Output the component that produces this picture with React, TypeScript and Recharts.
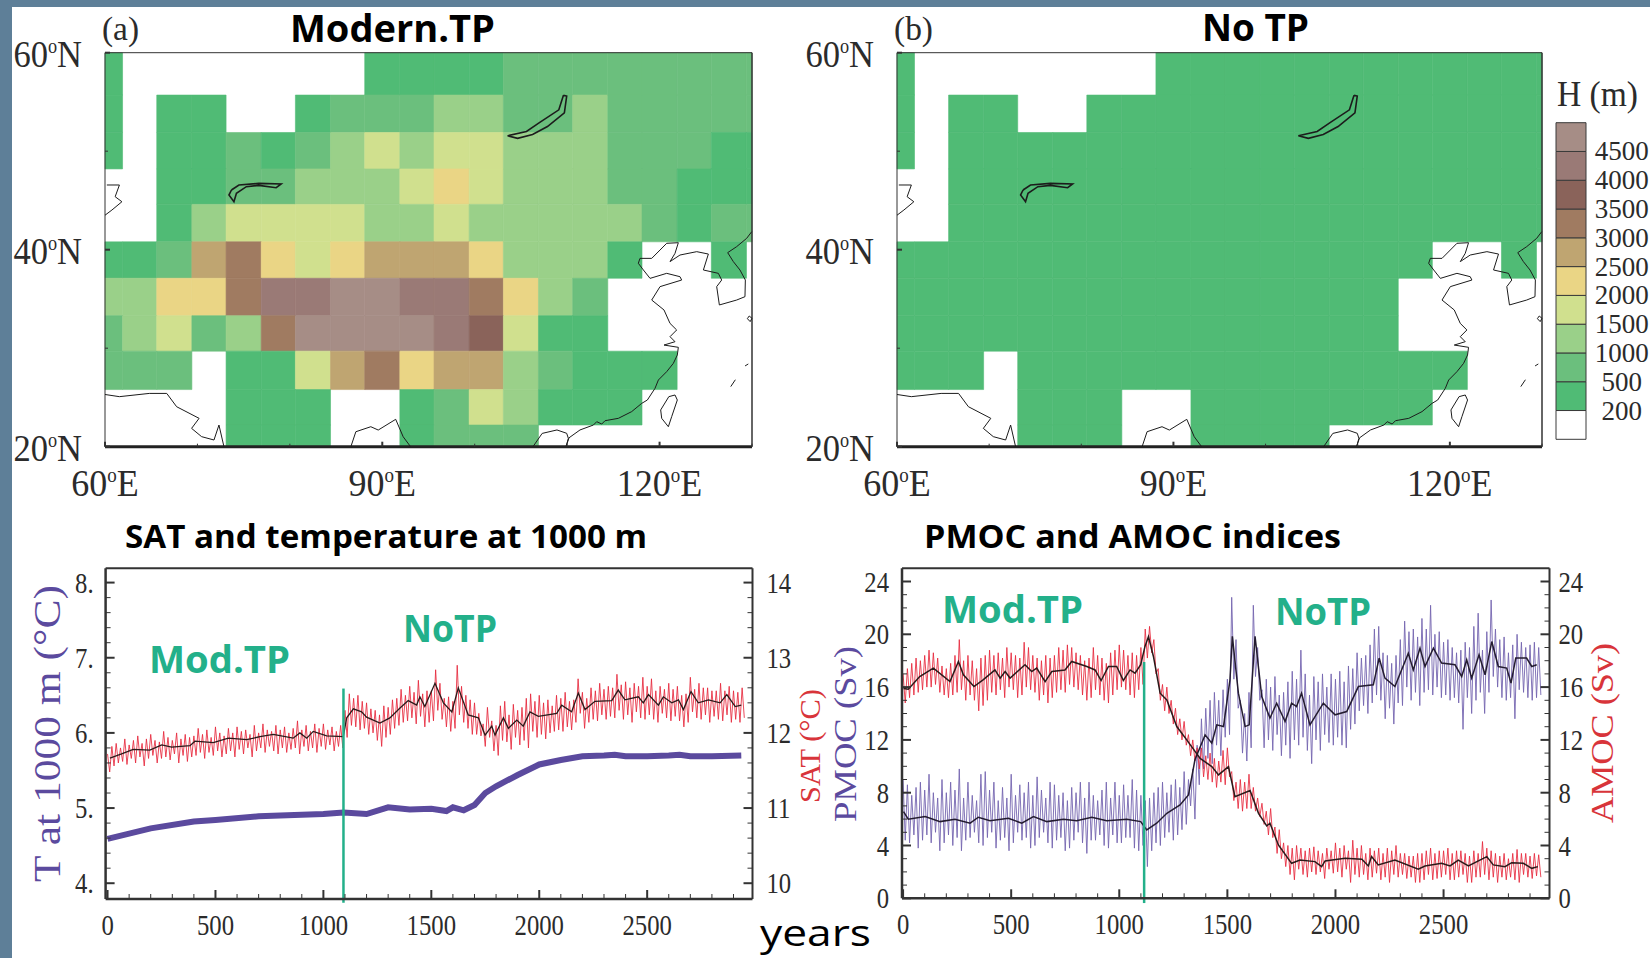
import { BarChart, Bar, ComposedChart, Line, ReferenceArea, ReferenceLine, Scatter, ScatterChart, XAxis, YAxis } from 'recharts';

// Height bands of the colour bar, bottom to top
const bandLabels = ['200', '500', '1000', '1500', '2000', '2500', '3000', '3500', '4000', '4500'];
const bandColors = ['#ffffff', '#50BB75', '#6BBF7D', '#9AD089', '#D0E08E', '#EAD585', '#BFA571', '#A07B61', '#8A635A', '#9A7A76', '#A68D86'];

// Model grid cell edges
const lonEdges = [60, 61.9, 65.6, 69.4, 73.1, 76.9, 80.6, 84.4, 88.1, 91.9, 95.6, 99.4, 103.1, 106.9, 110.6, 114.4, 118.1, 121.9, 125.6, 129.4, 130];
const latEdges = [60, 55.7, 51.9, 48.2, 44.6, 40.8, 37.1, 33.3, 29.7, 25.8, 22.2, 20];

// Band index per cell, north to south, west to east (0 is below 200 m)
const modernBands = [
  [1, 0, 0, 0, 0, 0, 0, 0, 1, 1, 1, 1, 2, 2, 2, 2, 2, 2, 2, 2],
  [1, 0, 1, 1, 0, 0, 1, 2, 2, 2, 3, 3, 2, 2, 3, 2, 2, 2, 2, 2],
  [1, 0, 1, 1, 2, 1, 2, 3, 4, 3, 4, 4, 3, 3, 3, 2, 2, 2, 1, 1],
  [0, 0, 1, 1, 2, 2, 3, 3, 3, 4, 5, 4, 3, 3, 3, 2, 2, 1, 1, 1],
  [0, 0, 1, 3, 4, 4, 4, 4, 3, 3, 4, 3, 3, 3, 3, 3, 2, 1, 2, 2],
  [1, 1, 2, 6, 7, 5, 4, 5, 6, 6, 6, 5, 3, 3, 3, 1, 0, 0, 1, 0],
  [3, 3, 5, 5, 7, 9, 9, 10, 10, 9, 9, 7, 5, 3, 2, 0, 0, 0, 0, 0],
  [2, 3, 4, 2, 3, 7, 10, 10, 10, 10, 9, 8, 4, 1, 1, 0, 0, 0, 0, 0],
  [2, 2, 2, 0, 1, 1, 4, 6, 7, 5, 6, 6, 3, 2, 1, 1, 1, 0, 0, 0],
  [0, 0, 0, 0, 1, 1, 1, 0, 0, 1, 2, 4, 3, 1, 1, 1, 0, 0, 0, 0],
  [0, 0, 0, 0, 1, 1, 1, 0, 0, 1, 2, 2, 2, 0, 0, 0, 0, 0, 0, 0],
];
const noTpBands = [
  [1, 0, 0, 0, 0, 0, 0, 0, 1, 1, 1, 1, 1, 1, 1, 1, 1, 1, 1, 1],
  [1, 0, 1, 1, 0, 0, 1, 1, 1, 1, 1, 1, 1, 1, 1, 1, 1, 1, 1, 1],
  [1, 0, 1, 1, 1, 1, 1, 1, 1, 1, 1, 1, 1, 1, 1, 1, 1, 1, 1, 1],
  [0, 0, 1, 1, 1, 1, 1, 1, 1, 1, 1, 1, 1, 1, 1, 1, 1, 1, 1, 1],
  [0, 0, 1, 1, 1, 1, 1, 1, 1, 1, 1, 1, 1, 1, 1, 1, 1, 1, 1, 1],
  [1, 1, 1, 1, 1, 1, 1, 1, 1, 1, 1, 1, 1, 1, 1, 1, 0, 0, 1, 0],
  [1, 1, 1, 1, 1, 1, 1, 1, 1, 1, 1, 1, 1, 1, 1, 0, 0, 0, 0, 0],
  [1, 1, 1, 1, 1, 1, 1, 1, 1, 1, 1, 1, 1, 1, 1, 0, 0, 0, 0, 0],
  [1, 1, 1, 0, 1, 1, 1, 1, 1, 1, 1, 1, 1, 1, 1, 1, 1, 0, 0, 0],
  [0, 0, 0, 0, 1, 1, 1, 0, 0, 1, 1, 1, 1, 1, 1, 1, 0, 0, 0, 0],
  [0, 0, 0, 0, 1, 1, 1, 0, 0, 1, 1, 1, 1, 0, 0, 0, 0, 0, 0, 0],
];

// Coastlines and lakes as [lon, lat]
const eastCoast = [[106.3, 20], [107.3, 21.35], [108.9, 21.7], [109.95, 21.36], [110.13, 20.85], [109.9, 20.07], [110.2, 20.9], [111.39, 21.7], [112.84, 22.2], [113.2, 22.54], [113.74, 22.3], [114.1, 22.64], [115.54, 22.88], [116.98, 23.56], [118.07, 24.4], [118.68, 24.74], [119.51, 25.93], [119.87, 26.77], [120.77, 27.62], [121.49, 28.46], [121.92, 29.31], [122.03, 30.09], [120.48, 30.32], [121.67, 30.66], [121.13, 31.17], [121.85, 31.85], [121.13, 32.52], [120.48, 33.88], [119.15, 34.89], [120.05, 36.25], [122.39, 36.92], [122.21, 37.26], [120.77, 37.6], [118.97, 37.09], [118.25, 37.94], [117.7, 38.62], [117.88, 39.12], [119.15, 39.12], [120.77, 40.65], [122.03, 40.71], [121.67, 39.63], [121.13, 38.79], [122.21, 39.46], [124.02, 39.8], [125.28, 39.56], [124.74, 37.94], [126.36, 37.6], [126.72, 36.92], [126.18, 36.25], [126.47, 34.39], [128.34, 34.89], [129.24, 35.23], [129.28, 36.92], [128.7, 37.94], [127.98, 38.79], [127.37, 39.7], [128.34, 40.31], [129.42, 41.15], [129.97, 41.83]];
const taiwan = [[121, 25.08], [121.67, 25.25], [121.92, 24.74], [121.31, 23.05], [120.95, 22.03], [120.23, 22.88], [120.12, 23.73], [121, 25.08]];
const kyushu = [[129.7, 33.27], [130, 33.03], [129.8, 32.7], [129.5, 33], [129.7, 33.27]];
const okinawa = [[127.7, 26.1], [128.2, 26.8]];
const amami = [[129.25, 28.2], [129.6, 28.4]];
const arabianCoast = [[60, 25.3], [61.56, 25.08], [64.79, 25.41], [66.68, 25.41], [67.75, 24.06], [70.18, 22.88], [69.37, 21.86], [70.45, 21.02], [71.79, 20.68], [72.33, 22.2], [72.87, 20]];
const bengalCoast = [[86.6, 20], [87.14, 21.52], [88.76, 22.03], [89.56, 21.69], [91.45, 22.78], [92.26, 21.01], [93.06, 20]];
const aralSea = [[60.2, 46.57], [61.56, 46.57], [61.1, 45.38], [61.83, 44.87], [60.75, 44.03], [60, 43.5]];
const baikal = [[109.6, 55.67], [109.1, 54.2], [107.0, 52.9], [105.6, 52.0], [103.56, 51.57], [104.64, 51.3], [106.26, 51.7], [107.87, 52.5], [109.7, 53.9], [109.95, 55.6], [109.6, 55.67]];
const balkhash = [[73.68, 46.06], [74.49, 46.57], [76.64, 46.73], [79.06, 46.67], [78.52, 46.29], [76.64, 46.53], [75.29, 46.4], [74.22, 45.72], [73.95, 44.87], [73.41, 45.55], [73.68, 46.06]];
const coastlines = [eastCoast, taiwan, kyushu, okinawa, amami, arabianCoast, bengalCoast, aralSea, baikal, balkhash];

// Annual series: highest and lowest value in each 20-year bin from year 0
const satHigh = [
  11.72, 11.82, 11.86, 11.8, 11.92, 11.84, 11.9, 11.96, 11.86, 11.92,
  11.98, 11.9, 11.88, 12.02, 11.94, 11.9, 12.0, 11.92, 11.98, 11.94,
  11.96, 12.06, 11.98, 12.04, 11.94, 12.08, 12.0, 11.96, 12.06, 12.0,
  12.08, 12.02, 12.04, 11.98, 12.1, 12.0, 12.12, 12.04, 12.02, 12.1,
  12.04, 12.08, 12.0, 12.06, 12.16, 12.04, 12.1, 12.02, 12.12, 12.06,
  12.12, 12.04, 12.08, 12.02, 12.1, 12.3, 12.52, 12.46, 12.5, 12.42,
  12.4, 12.32, 12.3, 12.24, 12.36, 12.34, 12.44, 12.46, 12.58, 12.5,
  12.62, 12.54, 12.7, 12.52, 12.56, 12.56, 12.84, 12.66, 12.46, 12.48,
  12.42, 12.9, 12.62, 12.5, 12.44, 12.4, 12.26, 12.12, 12.34, 12.16,
  12.1, 12.36, 12.42, 12.24, 12.38, 12.3, 12.34, 12.46, 12.52, 12.42,
  12.5, 12.4, 12.44, 12.36, 12.5, 12.46, 12.54, 12.42, 12.44, 12.72,
  12.54, 12.46, 12.6, 12.56, 12.66, 12.58, 12.62, 12.6, 12.78, 12.64,
  12.68, 12.6, 12.66, 12.62, 12.74, 12.62, 12.72, 12.56, 12.62, 12.58,
  12.66, 12.58, 12.62, 12.5, 12.52, 12.74, 12.58, 12.66, 12.6, 12.6,
  12.56, 12.56, 12.66, 12.56, 12.62, 12.56, 12.54, 12.6,
];
const satLow = [
  11.48, 11.56, 11.6, 11.62, 11.58, 11.66, 11.6, 11.68, 11.56, 11.66,
  11.7, 11.6, 11.66, 11.68, 11.64, 11.72, 11.6, 11.7, 11.62, 11.68,
  11.7, 11.74, 11.66, 11.74, 11.7, 11.76, 11.68, 11.72, 11.76, 11.68,
  11.78, 11.72, 11.8, 11.68, 11.76, 11.8, 11.74, 11.82, 11.76, 11.72,
  11.8, 11.74, 11.78, 11.8, 11.72, 11.82, 11.76, 11.8, 11.74, 11.82,
  11.78, 11.84, 11.76, 11.82, 11.8, 11.94, 12.1, 12.08, 12.04, 12.06,
  11.98, 12.0, 11.9, 11.82, 11.94, 11.98, 12.06, 12.1, 12.14, 12.16,
  12.2, 12.12, 12.22, 12.08, 12.14, 12.16, 12.3, 12.18, 12.08, 12.02,
  12.06, 12.24, 12.14, 12.06, 11.98, 11.98, 11.96, 11.82, 11.94, 11.76,
  11.7, 11.9, 11.88, 11.78, 11.94, 11.84, 11.9, 11.8, 12.02, 11.94,
  11.98, 11.92, 12.0, 12.02, 12.04, 12.02, 12.08, 12.04, 12.14, 12.26,
  12.06, 12.14, 12.18, 12.16, 12.24, 12.18, 12.22, 12.2, 12.3, 12.18,
  12.24, 12.14, 12.28, 12.2, 12.18, 12.24, 12.18, 12.14, 12.26, 12.2,
  12.16, 12.22, 12.16, 12.08, 12.14, 12.28, 12.2, 12.18, 12.24, 12.14,
  12.22, 12.18, 12.16, 12.24, 12.14, 12.18, 12.14, 12.2,
];
const amocHigh = [
  17.0, 17.4, 17.8, 18.2, 18.0, 18.4, 18.8, 18.6, 18.2, 17.6,
  17.4, 17.8, 18.4, 19.6, 18.0, 18.4, 18.0, 17.4, 18.2, 18.4,
  18.8, 18.4, 18.6, 18.2, 19.0, 18.6, 18.4, 18.2, 19.4, 19.0,
  18.4, 18.2, 18.0, 18.4, 18.2, 18.4, 19.0, 18.8, 19.2, 19.0,
  18.6, 18.4, 18.0, 18.2, 19.0, 18.4, 18.2, 17.8, 18.6, 18.8,
  19.2, 18.8, 18.4, 18.6, 18.4, 19.0, 20.4, 20.6, 19.6, 17.4,
  16.2, 16.0, 15.0, 14.4, 13.6, 13.4, 12.4, 12.0, 11.4, 11.4,
  10.8, 11.0, 10.6, 10.4, 11.2, 11.4, 9.6, 8.8, 9.0, 8.8,
  9.4, 8.4, 7.6, 7.2, 6.6, 6.8, 5.4, 5.2, 4.2, 4.0,
  3.8, 4.0, 3.8, 3.6, 3.8, 3.9, 3.6, 3.4, 3.8, 3.6,
  4.2, 3.8, 4.0, 3.6, 4.4, 3.8, 4.0, 3.4, 3.8, 3.6,
  3.8, 3.4, 3.8, 3.6, 4.0, 3.4, 3.4, 3.2, 3.2, 3.4,
  3.4, 3.6, 3.8, 3.4, 3.6, 3.6, 3.8, 3.4, 3.6, 3.6,
  3.4, 3.2, 3.6, 3.4, 4.3, 3.8, 3.6, 3.4, 3.2, 3.4,
  3.0, 3.4, 3.7, 3.4, 3.4, 3.2, 3.4, 3.3,
];
const amocLow = [
  14.8, 15.2, 15.4, 15.6, 15.8, 16.0, 16.0, 16.2, 15.6, 15.4,
  15.2, 15.4, 15.6, 15.8, 15.0, 15.4, 15.0, 14.2, 14.6, 15.0,
  15.6, 15.4, 15.8, 15.2, 16.0, 15.8, 15.2, 15.4, 16.0, 15.8,
  15.6, 15.0, 15.4, 14.8, 15.2, 15.6, 15.8, 15.6, 16.2, 16.0,
  15.8, 15.4, 15.0, 15.2, 15.8, 15.4, 15.0, 14.8, 15.4, 15.8,
  16.0, 15.8, 15.4, 15.2, 15.8, 16.2, 18.2, 18.6, 17.0, 15.0,
  14.2, 14.0, 13.2, 12.4, 12.0, 11.6, 10.8, 10.4, 9.8, 9.2,
  9.0, 8.8, 8.4, 8.8, 8.6, 9.2, 7.4, 6.8, 6.6, 6.8,
  6.8, 6.6, 6.2, 5.6, 4.8, 4.6, 3.4, 3.0, 2.4, 1.8,
  1.4, 2.2, 1.8, 1.6, 2.0, 1.8, 2.0, 1.5, 2.2, 1.9,
  2.0, 1.6, 2.2, 1.2, 1.8, 1.6, 1.8, 1.4, 1.6, 1.9,
  1.4, 1.6, 1.2, 1.8, 1.6, 1.8, 1.5, 1.6, 1.2, 1.2,
  1.4, 1.8, 1.4, 1.5, 1.6, 1.8, 1.4, 1.4, 1.6, 1.8,
  1.2, 1.2, 1.6, 1.6, 1.8, 1.4, 1.6, 1.2, 1.6, 1.4,
  1.6, 1.4, 1.2, 1.8, 1.6, 1.5, 1.7, 1.6,
];
const pmocHigh = [
  9.0, 8.6, 7.8, 8.4, 8.8, 8.2, 9.4, 8.0, 7.6, 9.0,
  8.0, 8.8, 8.2, 9.8, 7.6, 8.8, 7.8, 7.4, 9.4, 9.6,
  8.2, 8.8, 7.4, 8.4, 7.6, 9.4, 7.8, 8.6, 8.0, 8.8,
  7.8, 9.2, 8.2, 7.6, 8.8, 8.6, 7.8, 8.0, 7.4, 8.4,
  8.0, 8.8, 7.6, 8.8, 7.8, 7.4, 8.2, 8.8, 7.6, 8.8,
  7.8, 8.6, 7.8, 9.0, 8.2, 7.8, 7.4, 7.6, 8.0, 8.4,
  8.8, 8.0, 8.6, 9.0, 8.4, 9.6, 9.0, 9.8, 11.6, 13.6,
  14.4, 15.0, 15.6, 15.0, 15.8, 16.6, 22.8, 19.6, 15.0, 14.0,
  15.6, 22.2, 19.0, 15.8, 16.6, 16.0, 16.8, 15.4, 15.6, 16.4,
  17.2, 16.6, 18.8, 17.0, 15.4, 16.8, 16.4, 17.0, 16.0, 17.0,
  16.6, 17.2, 16.4, 17.6, 17.4, 18.6, 18.2, 18.4, 19.2, 20.4,
  20.6, 18.6, 18.4, 17.8, 18.4, 19.6, 21.0, 20.2, 20.4, 19.8,
  21.2, 20.4, 22.2, 20.0, 20.2, 19.4, 19.6, 19.0, 18.6, 18.8,
  19.4, 19.0, 20.6, 21.6, 18.8, 20.2, 22.6, 20.4, 19.6, 19.8,
  18.6, 19.2, 20.0, 19.4, 19.0, 19.2, 19.4, 19.0,
];
const pmocLow = [
  4.4, 4.2, 4.8, 3.8, 4.4, 4.8, 4.2, 5.0, 3.6, 4.2,
  4.8, 4.0, 4.6, 3.6, 4.4, 4.6, 5.0, 4.2, 4.0, 4.6,
  5.0, 3.8, 4.4, 4.6, 3.6, 4.2, 5.0, 4.4, 4.6, 3.8,
  4.0, 4.6, 5.0, 4.2, 3.8, 4.4, 4.6, 3.6, 3.8, 4.4,
  5.0, 4.2, 3.4, 4.4, 4.4, 4.8, 4.0, 3.8, 4.8, 4.2,
  4.2, 4.6, 4.6, 3.8, 3.6, 4.0, 2.4, 3.6, 4.2, 4.0,
  4.6, 5.0, 4.4, 4.8, 5.2, 5.6, 7.0, 6.0, 8.6, 9.8,
  10.6, 10.2, 11.6, 10.8, 12.2, 12.4, 16.6, 14.4, 11.0, 10.4,
  11.4, 16.8, 15.0, 11.4, 12.0, 11.2, 12.4, 10.8, 11.6, 10.6,
  12.0, 11.6, 12.2, 11.2, 10.2, 12.0, 11.2, 12.4, 11.8, 11.6,
  12.2, 11.6, 11.4, 12.8, 13.2, 14.2, 14.6, 14.0, 14.8, 15.4,
  15.0, 13.6, 14.4, 13.2, 14.8, 14.6, 16.0, 15.0, 15.6, 14.6,
  15.6, 15.8, 15.4, 16.0, 15.2, 15.4, 15.0, 15.2, 14.8, 12.8,
  15.2, 14.0, 15.0, 15.6, 14.0, 15.6, 16.8, 16.0, 15.2, 15.0,
  15.2, 13.6, 15.8, 15.6, 15.2, 15.0, 15.2, 15.4,
];

// Smoothed curves, read at their turning points
const satSmoothYears = [11, 65, 119, 196, 251, 297, 382, 405, 490, 560, 645, 706, 768, 860, 891, 923, 953, 1015, 1092, 1108, 1139, 1177, 1200, 1262, 1308, 1355, 1393, 1432, 1447, 1470, 1517, 1556, 1595, 1625, 1671, 1718, 1749, 1780, 1795, 1834, 1857, 1896, 1926, 1957, 1996, 2081, 2104, 2150, 2181, 2212, 2258, 2336, 2366, 2397, 2459, 2482, 2506, 2552, 2575, 2614, 2645, 2668, 2703, 2737, 2784, 2838, 2869, 2908, 2936];
const satSmooth = [11.665, 11.72, 11.78, 11.77, 11.84, 11.81, 11.83, 11.89, 11.87, 11.93, 11.91, 11.95, 11.98, 11.93, 12.0, 11.93, 12.02, 11.96, 11.95, 12.2, 12.32, 12.28, 12.21, 12.13, 12.2, 12.33, 12.43, 12.37, 12.48, 12.35, 12.66, 12.4, 12.28, 12.6, 12.24, 12.2, 11.97, 12.09, 11.97, 12.2, 12.06, 12.17, 12.09, 12.28, 12.22, 12.26, 12.37, 12.28, 12.53, 12.31, 12.42, 12.43, 12.57, 12.44, 12.48, 12.4, 12.51, 12.37, 12.48, 12.4, 12.44, 12.31, 12.55, 12.4, 12.44, 12.4, 12.51, 12.35, 12.37];
const t1000Years = [0, 200, 400, 500, 700, 1000, 1093, 1200, 1300, 1400, 1500, 1570, 1600, 1650, 1700, 1750, 1800, 1900, 2000, 2100, 2200, 2300, 2350, 2400, 2500, 2600, 2650, 2700, 2800, 2936];
const t1000 = [4.59, 4.73, 4.82, 4.84, 4.89, 4.92, 4.94, 4.92, 5.01, 4.98, 4.99, 4.96, 5.01, 4.97, 5.04, 5.2, 5.29, 5.44, 5.58, 5.64, 5.69, 5.7, 5.71, 5.69, 5.69, 5.7, 5.71, 5.69, 5.69, 5.7];
const amocSmoothYears = [2, 24, 77, 140, 217, 256, 279, 328, 370, 425, 449, 472, 495, 564, 595, 618, 657, 688, 749, 780, 850, 888, 916, 950, 988, 1019, 1050, 1073, 1099, 1119, 1135, 1158, 1189, 1220, 1266, 1312, 1374, 1428, 1459, 1505, 1535, 1605, 1644, 1682, 1697, 1736, 1797, 1836, 1905, 1936, 1952, 2044, 2122, 2152, 2167, 2198, 2275, 2383, 2414, 2491, 2530, 2568, 2615, 2700, 2730, 2784, 2815, 2869, 2908, 2936];
const amocSmooth = [15.9, 15.84, 16.8, 17.44, 16.42, 17.94, 16.93, 16.04, 16.55, 17.3, 16.68, 17.18, 16.68, 17.69, 17.18, 17.44, 16.42, 17.18, 17.3, 17.94, 17.56, 17.3, 16.5, 17.56, 17.56, 16.5, 17.3, 17.06, 17.69, 19.08, 19.83, 18.32, 15.54, 15.03, 13.01, 12, 10.6, 9.98, 9.35, 9.98, 7.7, 8.16, 6.44, 5.48, 5.69, 4.04, 2.65, 2.9, 2.78, 2.4, 2.83, 3.03, 2.96, 2.45, 3.16, 2.53, 2.9, 2.2, 2.45, 2.65, 2.45, 2.9, 2.45, 3.16, 2.53, 2.4, 2.7, 2.65, 2.27, 2.4];
const pmocSmoothYears = [2, 24, 102, 171, 240, 310, 348, 402, 487, 549, 603, 665, 742, 803, 873, 942, 1035, 1099, 1127, 1173, 1220, 1281, 1320, 1350, 1397, 1428, 1451, 1482, 1512, 1523, 1551, 1582, 1601, 1628, 1659, 1697, 1728, 1767, 1797, 1820, 1843, 1882, 1944, 1998, 2052, 2106, 2175, 2202, 2229, 2275, 2337, 2360, 2391, 2414, 2453, 2491, 2553, 2584, 2607, 2630, 2664, 2692, 2723, 2753, 2792, 2812, 2834, 2884, 2908, 2931];
const pmocSmooth = [6.57, 5.99, 6.19, 5.81, 5.99, 5.69, 6.14, 5.88, 6.06, 5.69, 6.19, 5.81, 5.99, 5.88, 6.14, 5.88, 5.99, 5.81, 5.18, 5.69, 6.44, 7.07, 7.83, 10.49, 12.38, 11.75, 13.14, 13.01, 16.55, 19.84, 15.54, 13.01, 13.14, 19.84, 15.29, 13.65, 14.78, 13.39, 14.78, 14.53, 15.54, 13.14, 14.78, 13.9, 14.15, 16.04, 16.17, 18.2, 16.68, 16.04, 18.57, 17.3, 18.95, 17.56, 18.95, 17.82, 17.69, 16.8, 18.07, 16.68, 18.45, 16.93, 19.45, 17.56, 17.44, 16.3, 18.2, 18.2, 17.56, 17.69];

// Axis ticks
const yearTicks = [0, 100, 200, 300, 400, 500, 600, 700, 800, 900, 1000, 1100, 1200, 1300, 1400, 1500, 1600, 1700, 1800, 1900, 2000, 2100, 2200, 2300, 2400, 2500, 2600, 2700, 2800, 2900];
const tTicks = [4, 4.2, 4.4, 4.6, 4.8, 5, 5.2, 5.4, 5.6, 5.8, 6, 6.2, 6.4, 6.6, 6.8, 7, 7.2, 7.4, 7.6, 7.8, 8];
const satTicks = [10, 10.2, 10.4, 10.6, 10.8, 11, 11.2, 11.4, 11.6, 11.8, 12, 12.2, 12.4, 12.6, 12.8, 13, 13.2, 13.4, 13.6, 13.8, 14];
const svTicks = [0, 1, 2, 3, 4, 5, 6, 7, 8, 9, 10, 11, 12, 13, 14, 15, 16, 17, 18, 19, 20, 21, 22, 23, 24];
const lonTicks = [60, 70, 80, 90, 100, 110, 120, 130];
const latTicks = [20, 30, 40, 50, 60];

const INK = '#333';
const GREEN = '#23B08A';
const PURPLE = '#5B4A9E';
const RED = '#D8343A';
const SERIF = '"Liberation Serif", serif';
const SANS = '"Open Sans", sans-serif';

// Axes need a non-zero band to draw, so the margins give back this one pixel
const AXIS_BAND = 1;

const zigzag = (high: number[], low: number[]) =>
  high.flatMap((h, i) => [
    { year: i * 20, v: h },
    { year: i * 20 + 10, v: low[i] },
  ]);
const paired = (years: number[], values: number[]) => values.map((v, i) => ({ year: years[i], v }));

const plotMargin = (box: any, plot: any) => ({
  left: plot.l - box.x - AXIS_BAND,
  top: plot.t - box.y - AXIS_BAND,
  right: box.x + box.w - plot.r - AXIS_BAND,
  bottom: box.y + box.h - plot.b - AXIS_BAND,
});

// Inward tick marks on every side, with the label outside the frame
type TickOpts = {
  side: 'left' | 'right' | 'top' | 'bottom';
  isMajor: (v: number) => boolean;
  major: number;
  minor: number;
  text?: (v: number) => any;
  gap?: number;
  fontSize?: number;
  scaleX?: number;
  scaleY?: number;
  dy?: number;
};

const makeTick = ({ side, isMajor, major, minor, text, gap = 0, fontSize = 26, scaleX = 1, scaleY = 1, dy = 0 }: TickOpts) => (props: any) => {
  const { x, y, payload } = props;
  const big = isMajor(payload.value);
  const len = big ? major : minor;
  const sx = side === 'left' ? len : side === 'right' ? -len : 0;
  const sy = side === 'top' ? len : side === 'bottom' ? -len : 0;
  const lx = side === 'left' ? x - gap : side === 'right' ? x + gap : x;
  const ly = side === 'bottom' ? y + gap : y + dy;
  const anchor = side === 'left' ? 'end' : side === 'right' ? 'start' : 'middle';
  return (
    <g>
      <line x1={x} y1={y} x2={x + sx} y2={y + sy} stroke={INK} strokeWidth={big ? 2 : 1} />
      {big && text ? (
        <text transform={`translate(${lx},${ly}) scale(${scaleX},${scaleY})`} textAnchor={anchor} fontFamily={SERIF} fontSize={fontSize} fill="#2b2b2b">
          {text(payload.value)}
        </text>
      ) : null}
    </g>
  );
};

const degrees = (hemi: string) => (v: number) => (
  <>
    {v}
    <tspan fontSize={19} dy={-13}>o</tspan>
    <tspan dy={13}>{hemi}</tspan>
  </>
);

const MapPanel = ({ box, plot, bands }: any) => {
  const cells: any[] = [];
  bands.forEach((row: number[], r: number) =>
    row.forEach((band, c) => {
      if (band > 0) cells.push({ key: `${r}-${c}`, band, r, c });
    }),
  );
  const onMajorLon = (v: number) => v % 30 === 0;
  const onMajorLat = (v: number) => v % 20 === 0;
  return (
    <div style={{ position: 'absolute', left: box.x, top: box.y }}>
      <ScatterChart width={box.w} height={box.h} margin={plotMargin(box, plot)}>
        {cells.map((cell) => (
          <ReferenceArea
            key={cell.key}
            x1={lonEdges[cell.c]}
            x2={lonEdges[cell.c + 1]}
            y1={latEdges[cell.r + 1]}
            y2={latEdges[cell.r]}
            fill={bandColors[cell.band]}
            fillOpacity={1}
            stroke={bandColors[cell.band]}
            strokeWidth={0.6}
            ifOverflow="visible"
          />
        ))}
        {coastlines.map((coast, i) => (
          <Scatter
            key={i}
            data={coast.map(([lon, lat]) => ({ lon, lat }))}
            line={{ stroke: '#1c1c1c', strokeWidth: i > 7 ? 1.6 : 1 }}
            shape={() => <g />}
            isAnimationActive={false}
          />
        ))}
        <XAxis type="number" dataKey="lon" domain={[60, 130]} ticks={lonTicks} interval={0} height={AXIS_BAND} tickSize={0} tickMargin={0} tickLine={false} axisLine={{ stroke: '#222', strokeWidth: 3 }} tick={makeTick({ side: 'bottom', isMajor: onMajorLon, major: 5, minor: 3, text: degrees('E'), gap: 49, fontSize: 36, scaleY: 1.08 })} />
        <XAxis xAxisId="top" orientation="top" type="number" dataKey="lon" domain={[60, 130]} ticks={lonTicks} interval={0} height={AXIS_BAND} tickSize={0} tickMargin={0} tickLine={false} axisLine={{ stroke: INK, strokeWidth: 1 }} tick={makeTick({ side: 'top', isMajor: onMajorLon, major: 5, minor: 3 })} />
        <YAxis type="number" dataKey="lat" domain={[20, 60]} ticks={latTicks} interval={0} width={AXIS_BAND} tickSize={0} tickMargin={0} tickLine={false} axisLine={{ stroke: INK, strokeWidth: 1 }} tick={makeTick({ side: 'left', isMajor: onMajorLat, major: 5, minor: 3, text: degrees('N'), gap: 23, fontSize: 36, scaleX: 0.96, scaleY: 1.08, dy: 14 })} />
        <YAxis yAxisId="right" orientation="right" type="number" dataKey="lat" domain={[20, 60]} ticks={latTicks} interval={0} width={AXIS_BAND} tickSize={0} tickMargin={0} tickLine={false} axisLine={{ stroke: INK, strokeWidth: 1.5 }} tick={makeTick({ side: 'right', isMajor: onMajorLat, major: 5, minor: 3 })} />
      </ScatterChart>
    </div>
  );
};

const lineAxes = (leftTicks: number[], rightTicks: number[], leftDomain: number[], rightDomain: number[], xDomain: number[], leftMajor: (v: number) => boolean, rightMajor: (v: number) => boolean, leftText: (v: number) => any, leftGap: number, rightGap: number) => {
  const yearMajor = (v: number) => v % 500 === 0;
  return [
    <XAxis key="b" xAxisId="bottom" type="number" dataKey="year" domain={xDomain} ticks={yearTicks} interval={0} height={AXIS_BAND} tickSize={0} tickMargin={0} tickLine={false} axisLine={{ stroke: INK, strokeWidth: 2.5 }} tick={makeTick({ side: 'bottom', isMajor: yearMajor, major: 9, minor: 5, text: (v) => v, gap: 36, scaleX: 0.95, scaleY: 1.1 })} />,
    <XAxis key="t" xAxisId="top" orientation="top" type="number" dataKey="year" domain={xDomain} ticks={yearTicks} interval={0} height={AXIS_BAND} tickSize={0} tickMargin={0} tickLine={false} axisLine={{ stroke: INK, strokeWidth: 2 }} tick={makeTick({ side: 'top', isMajor: yearMajor, major: 9, minor: 5 })} />,
    <YAxis key="l" yAxisId="left" type="number" domain={leftDomain} ticks={leftTicks} interval={0} width={AXIS_BAND} tickSize={0} tickMargin={0} tickLine={false} axisLine={{ stroke: INK, strokeWidth: 2.5 }} tick={makeTick({ side: 'left', isMajor: leftMajor, major: 9, minor: 5, text: leftText, gap: leftGap, scaleX: 0.95, scaleY: 1.1, dy: 10 })} />,
    <YAxis key="r" yAxisId="right" orientation="right" type="number" domain={rightDomain} ticks={rightTicks} interval={0} width={AXIS_BAND} tickSize={0} tickMargin={0} tickLine={false} axisLine={{ stroke: INK, strokeWidth: 2 }} tick={makeTick({ side: 'right', isMajor: rightMajor, major: 9, minor: 5, text: (v) => v, gap: rightGap, scaleX: 0.95, scaleY: 1.1, dy: 10 })} />,
  ];
};

const series = (data: any[], yAxisId: string, stroke: string, strokeWidth: number, opacity = 1) => (
  <Line
    data={data}
    xAxisId="bottom"
    yAxisId={yAxisId}
    dataKey="v"
    type="linear"
    stroke={stroke}
    strokeWidth={strokeWidth}
    strokeOpacity={opacity}
    dot={false}
    isAnimationActive={false}
  />
);

const TempChart = () => {
  const box = { x: 20, y: 560, w: 800, h: 398 };
  const plot = { l: 105.6, r: 752.5, t: 568.3, b: 899 };
  return (
    <div style={{ position: 'absolute', left: box.x, top: box.y }}>
      <ComposedChart width={box.w} height={box.h} margin={plotMargin(box, plot)}>
        {lineAxes(tTicks, satTicks, [3.79, 8.19], [9.79, 14.19], [-9, 2988], Number.isInteger, Number.isInteger, (v) => `${v}.`, 12, 14)}
        {series(zigzag(satHigh, satLow), 'right', '#E6283C', 1, 0.85)}
        {series(paired(t1000Years, t1000), 'left', PURPLE, 6)}
        {series(paired(satSmoothYears, satSmooth), 'right', '#2a1a1a', 1.3)}
        <ReferenceLine xAxisId="bottom" yAxisId="left" segment={[{ x: 1093, y: 3.74 }, { x: 1093, y: 6.59 }]} stroke={GREEN} strokeWidth={2.5} ifOverflow="visible" />
      </ComposedChart>
    </div>
  );
};

const MocChart = () => {
  const box = { x: 840, y: 560, w: 810, h: 398 };
  const plot = { l: 902, r: 1549.5, t: 568.3, b: 898.3 };
  const every4 = (v: number) => v % 4 === 0;
  return (
    <div style={{ position: 'absolute', left: box.x, top: box.y }}>
      <ComposedChart width={box.w} height={box.h} margin={plotMargin(box, plot)}>
        {lineAxes(svTicks, svTicks, [0, 25], [0, 25], [-5, 2990], every4, every4, (v) => v, 13, 9)}
        {series(zigzag(pmocHigh, pmocLow), 'left', '#7566B0', 1, 0.9)}
        {series(zigzag(amocHigh, amocLow), 'right', '#E6283C', 1, 0.85)}
        {series(paired(pmocSmoothYears, pmocSmooth), 'left', '#241c30', 1.5)}
        {series(paired(amocSmoothYears, amocSmooth), 'right', '#2a1a1a', 1.5)}
        <ReferenceLine xAxisId="bottom" yAxisId="left" segment={[{ x: 1115, y: -0.36 }, { x: 1115, y: 17.9 }]} stroke={GREEN} strokeWidth={2.5} ifOverflow="visible" />
      </ComposedChart>
    </div>
  );
};

const legendRow = [Object.fromEntries(bandColors.map((_, i) => [`b${i}`, 1]))];

const ColorBar = () => (
  <div style={{ position: 'absolute', left: 1550, top: 115 }}>
    <BarChart width={100} height={330} data={legendRow} barCategoryGap={0} margin={{ left: 6, right: 63.3, top: 7.7, bottom: 5.7 }}>
      <XAxis hide />
      <YAxis
        orientation="right"
        type="number"
        domain={[0, 11]}
        ticks={bandLabels.map((_, i) => i + 1)}
        interval={0}
        width={AXIS_BAND}
        tickSize={0}
        tickMargin={0}
        tickLine={false}
        axisLine={false}
        tick={(props: any) => (
          <text x={props.x + 36} y={props.y + 9} textAnchor="middle" fontFamily={SERIF} fontSize={27} fill="#2b2b2b">
            {bandLabels[props.payload.value - 1]}
          </text>
        )}
      />
      {bandColors.map((color, i) => (
        <Bar key={i} dataKey={`b${i}`} stackId="h" fill={color} stroke="#3a3a3a" strokeWidth={1} isAnimationActive={false} />
      ))}
    </BarChart>
  </div>
);

// Titles and hand-placed annotations, each fitted to the width it has in the figure
const Label = ({ x, y, w, size, fill = '#000', weight = 700, family = SANS, children }: any) => (
  <text x={x} y={y} fontFamily={family} fontSize={size} fontWeight={weight} fill={fill} textLength={w} lengthAdjust="spacingAndGlyphs">
    {children}
  </text>
);

const RotLabel = ({ x, yTop, yBottom, size, fill, children }: any) => (
  <text
    transform={`translate(${x},${yBottom}) rotate(-90)`}
    fontFamily={SERIF}
    fontSize={size}
    fill={fill}
    textLength={yBottom - yTop}
    lengthAdjust="spacingAndGlyphs"
  >
    {children}
  </text>
);

const Overlay = () => (
  <svg width={1650} height={958} style={{ position: 'absolute', left: 0, top: 0, pointerEvents: 'none' }}>
    <Label x={290} y={42} w={205} size={38}>Modern.TP</Label>
    <Label x={1202} y={41} w={107} size={38}>No TP</Label>
    <Label x={102} y={40} w={37} size={34} weight={400} family={SERIF} fill="#2b2b2b">(a)</Label>
    <Label x={894} y={40} w={39} size={34} weight={400} family={SERIF} fill="#2b2b2b">(b)</Label>
    <Label x={1557} y={106} w={81} size={35} weight={400} family={SERIF} fill="#2b2b2b">H (m)</Label>
    <Label x={125} y={548} w={522} size={32}>SAT and temperature at 1000 m</Label>
    <Label x={924} y={548} w={417} size={32}>PMOC and AMOC indices</Label>
    <Label x={149} y={673} w={141} size={38} fill={GREEN}>Mod.TP</Label>
    <Label x={403} y={642} w={94} size={38} fill={GREEN}>NoTP</Label>
    <Label x={942} y={623} w={141} size={38} fill={GREEN}>Mod.TP</Label>
    <Label x={1275} y={625} w={96} size={38} fill={GREEN}>NoTP</Label>
    <Label x={760} y={946} w={111} size={36} weight={400}>years</Label>
    <RotLabel x={60} yTop={585} yBottom={882} size={38} fill={PURPLE}>T at 1000 m (°C)</RotLabel>
    <RotLabel x={820} yTop={689} yBottom={803} size={30} fill={RED}>SAT (°C)</RotLabel>
    <RotLabel x={856} yTop={646} yBottom={822} size={31} fill={PURPLE}>PMOC (Sv)</RotLabel>
    <RotLabel x={1613} yTop={643} yBottom={823} size={31} fill={RED}>AMOC (Sv)</RotLabel>
  </svg>
);

const App = () => (
  <div style={{ position: 'absolute', left: 0, top: 0, width: 1650, height: 958, background: '#fff', overflow: 'hidden' }}>
    <div style={{ position: 'absolute', left: 0, top: 0, width: 1650, height: 7, background: '#5E7F98' }} />
    <div style={{ position: 'absolute', left: 0, top: 0, width: 12, height: 958, background: '#5E7F98' }} />
    <MapPanel box={{ x: 12, y: 12, w: 770, h: 498 }} plot={{ l: 105, r: 752, t: 52.7, b: 446.7 }} bands={modernBands} />
    <MapPanel box={{ x: 790, y: 12, w: 760, h: 498 }} plot={{ l: 897, r: 1542, t: 52.7, b: 446.7 }} bands={noTpBands} />
    <ColorBar />
    <TempChart />
    <MocChart />
    <Overlay />
  </div>
);

export default App;
